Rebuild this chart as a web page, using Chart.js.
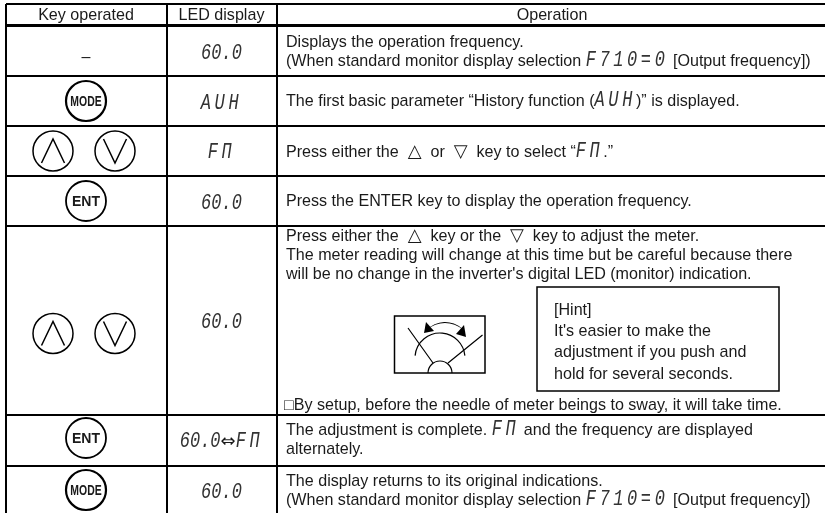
<!DOCTYPE html>
<html>
<head>
<meta charset="utf-8">
<title>Meter adjustment steps</title>
<script src="https://cdn.jsdelivr.net/npm/chart.js@4"></script>
<style>
    html, body { margin: 0; background: #fff; }
    canvas { display: block; }
</style>
</head>
<body>
<canvas id="tableChart" width="825" height="513"></canvas>
<script>
// table content
const headers = ["Key operated", "LED display", "Operation"];
const keyLabels = ["–", "MODE", "", "ENT", "", "ENT", "MODE"];
const ledReadings = ["60.0", "AUH", "FΠ", "60.0", "60.0", "{60.0}<⇔>{FΠ}", "60.0"];
const operationText = [
    ["Displays the operation frequency.", "(When standard monitor display selection {F710=0} [Output frequency])"],
    ["The first basic parameter “History function ({AUH})” is displayed."],
    ["Press either the  <△>  or  <▽>  key to select “{FΠ}.”"],
    ["Press the ENTER key to display the operation frequency."],
    ["Press either the  <△>  key or the  <▽>  key to adjust the meter.",
     "The meter reading will change at this time but be careful because there",
     "will be no change in the inverter's digital LED (monitor) indication."],
    ["The adjustment is complete. {FΠ} and the frequency are displayed", "alternately."],
    ["The display returns to its original indications.", "(When standard monitor display selection {F710=0} [Output frequency])"]
];
const hintText = ["[Hint]", "It's easier to make the", "adjustment if you push and", "hold for several seconds."];
const footNote = "□By setup, before the needle of meter beings to sway, it will take time.";

// layout, in page pixels
const columnLines = [6, 167, 277];
const rowLines = [4, 25, 76, 126, 176, 226, 415, 466];
const rowTextY = [[47, 66], [106], [157], [206], [241, 260, 279], [435, 454], [486, 505]];
const ledY = [59, 109, 158, 209, 328, 447, 498];
const modeKeyY = [101, 490];
const entKeyY = [201, 438];
const arrowKeyY = [151, 333.5];
const footNoteY = 410;
const hintBox = [537, 287, 779, 391];
const hintY = [315, 336, 357, 379];
const meterBox = [394.5, 316, 485, 373];

const bodyFont = '16.1px "Liberation Sans", Arial, sans-serif';
const ledFont = 'italic 17px "Liberation Mono", monospace';
const inkColor = "#1a1a1a";

function chevron(cx, cy, dir) {
    return [
        { x: cx - 11.5, y: cy + 12 * dir },
        { x: cx, y: cy - 12 * dir },
        { x: cx + 11.5, y: cy + 12 * dir }
    ];
}

function chevronSet() {
    const sets = [];
    arrowKeyY.forEach(y => {
        sets.push(chevron(53, y, 1));
        sets.push(chevron(115, y, -1));
    });
    return sets.map(points => ({
        data: points,
        showLine: true,
        pointRadius: 0,
        borderColor: "#000",
        borderWidth: 1.5
    }));
}

function keyCircles(points, width) {
    return {
        data: points,
        pointStyle: "circle",
        pointRadius: 20,
        pointBackgroundColor: "rgba(0,0,0,0)",
        pointBorderColor: "#000",
        pointBorderWidth: width
    };
}

// draws one line made of plain, LED and symbol runs
function runWidth(ctx, run) {
    ctx.font = run.font;
    ctx.letterSpacing = run.spacing + "px";
    const w = ctx.measureText(run.text).width;
    ctx.letterSpacing = "0px";
    return w;
}

function splitRuns(line) {
    return line.split(/(\{[^}]*\}|<[^>]*>)/).filter(s => s !== "").map(s => {
        if (s[0] === "{") {
            const text = s.slice(1, -1);
            return { text: text, font: ledFont, led: true, spacing: text.includes(".") ? 0 : 3.6 };
        }
        if (s[0] === "<") {
            return { text: s.slice(1, -1), font: '18px "DejaVu Sans", sans-serif', led: false, spacing: 0 };
        }
        return { text: s, font: bodyFont, led: false, spacing: 0 };
    });
}

function drawLine(ctx, line, x, y) {
    splitRuns(line).forEach(run => {
        ctx.font = run.font;
        ctx.letterSpacing = run.spacing + "px";
        if (run.led) {
            ctx.save();
            ctx.translate(x, y);
            ctx.scale(1, 1.25);
            ctx.fillStyle = "#333";
            ctx.fillText(run.text, 0, 0);
            ctx.restore();
        } else {
            ctx.fillText(run.text, x, y);
        }
        x += ctx.measureText(run.text).width;
        ctx.letterSpacing = "0px";
    });
}

function drawCentered(ctx, line, cx, y) {
    const w = splitRuns(line).reduce((sum, run) => sum + runWidth(ctx, run), 0);
    drawLine(ctx, line, cx - w / 2, y);
}

function drawMeter(ctx, px, py) {
    ctx.strokeStyle = "#000";
    ctx.lineWidth = 1.5;
    ctx.strokeRect(px(meterBox[0]), py(meterBox[1]), meterBox[2] - meterBox[0], meterBox[3] - meterBox[1]);

    ctx.lineWidth = 1.2;
    ctx.beginPath();
    ctx.moveTo(px(408), py(328));
    ctx.lineTo(px(433), py(363));
    ctx.moveTo(px(482.5), py(335));
    ctx.lineTo(px(448), py(363));
    ctx.stroke();

    ctx.beginPath();
    ctx.arc(px(440), py(373), 12, Math.PI, 2 * Math.PI);
    ctx.stroke();

    ctx.beginPath();
    ctx.arc(px(440), py(358), 25, Math.PI * 1.03, Math.PI * 1.97);
    ctx.stroke();

    // double headed arrow above the dial
    ctx.fillStyle = "#000";
    ctx.beginPath();
    ctx.arc(px(445), py(347), 25, -Math.PI * 0.76, -Math.PI * 0.24);
    ctx.arc(px(445), py(350), 27, -Math.PI * 0.27, -Math.PI * 0.73, true);
    ctx.closePath();
    ctx.fill();
    [[424, 333, 426, 322, 434, 331], [466, 337, 464, 325, 456, 334]].forEach(p => {
        ctx.beginPath();
        ctx.moveTo(px(p[0]), py(p[1]));
        ctx.lineTo(px(p[2]), py(p[3]));
        ctx.lineTo(px(p[4]), py(p[5]));
        ctx.closePath();
        ctx.fill();
    });
}

function drawKeyCaption(ctx, label, x, y, font, stretch) {
    ctx.save();
    ctx.font = font;
    ctx.textAlign = "center";
    ctx.translate(x, y);
    ctx.scale(stretch, 1);
    ctx.fillText(label, 0, 0);
    ctx.restore();
}

const tableText = {
    id: "tableText",
    afterDatasetsDraw(chart) {
        const ctx = chart.ctx;
        const px = v => chart.scales.x.getPixelForValue(v);
        const py = v => chart.scales.y.getPixelForValue(v);
        ctx.save();
        ctx.fillStyle = inkColor;
        ctx.textBaseline = "alphabetic";

        drawCentered(ctx, headers[0], px(86), py(19.5));
        drawCentered(ctx, headers[1], px(221.5), py(19.5));
        drawCentered(ctx, headers[2], px(552), py(19.5));

        operationText.forEach((lines, row) => {
            lines.forEach((line, i) => drawLine(ctx, line, px(286), py(rowTextY[row][i])));
        });
        drawLine(ctx, footNote, px(284), py(footNoteY));

        ledReadings.forEach((text, row) => {
            drawCentered(ctx, "{" === text[0] ? text : "{" + text + "}", px(221.5), py(ledY[row]));
        });

        // key captions
        drawCentered(ctx, keyLabels[0], px(86), py(62));
        const modeFont = 'bold 14.5px "Liberation Sans", sans-serif';
        const entFont = 'bold 14px "Liberation Sans", sans-serif';
        drawKeyCaption(ctx, keyLabels[1], px(86), py(modeKeyY[0] + 5), modeFont, 0.72);
        drawKeyCaption(ctx, keyLabels[6], px(86), py(modeKeyY[1] + 5), modeFont, 0.72);
        drawKeyCaption(ctx, keyLabels[3], px(86), py(entKeyY[0] + 5), entFont, 1);
        drawKeyCaption(ctx, keyLabels[5], px(86), py(entKeyY[1] + 5), entFont, 1);

        // hint box and meter sketch
        ctx.strokeStyle = "#000";
        ctx.lineWidth = 1.5;
        ctx.strokeRect(px(hintBox[0]), py(hintBox[1]), hintBox[2] - hintBox[0], hintBox[3] - hintBox[1]);
        hintText.forEach((line, i) => drawLine(ctx, line, px(554), py(hintY[i])));
        drawMeter(ctx, px, py);
        ctx.restore();
    }
};

new Chart(document.getElementById("tableChart"), {
    type: "scatter",
    data: {
        datasets: [
            keyCircles(modeKeyY.map(y => ({ x: 86, y: y })), 2.2),
            keyCircles(entKeyY.map(y => ({ x: 86, y: y })), 1.8),
            keyCircles(arrowKeyY.flatMap(y => [{ x: 53, y: y }, { x: 115, y: y }]), 1.5),
            ...chevronSet()
        ]
    },
    plugins: [tableText],
    options: {
        responsive: false,
        animation: false,
        layout: { autoPadding: false, padding: { left: 6, top: 4 } },
        plugins: { legend: { display: false }, tooltip: { enabled: false } },
        events: [],
        scales: {
            x: {
                type: "linear",
                min: 6,
                max: 825,
                border: { display: false },
                ticks: { display: false },
                grid: { drawTicks: false, color: "#000", lineWidth: 2 },
                afterBuildTicks: axis => { axis.ticks = columnLines.map(v => ({ value: v })); }
            },
            y: {
                type: "linear",
                reverse: true,
                min: 4,
                max: 513,
                border: { display: false },
                ticks: { display: false },
                grid: {
                    drawTicks: false,
                    color: "#000",
                    lineWidth: ctx => (ctx.tick && ctx.tick.value === 25 ? 3 : 2)
                },
                afterBuildTicks: axis => { axis.ticks = rowLines.map(v => ({ value: v })); }
            }
        }
    }
});
</script>
</body>
</html>
